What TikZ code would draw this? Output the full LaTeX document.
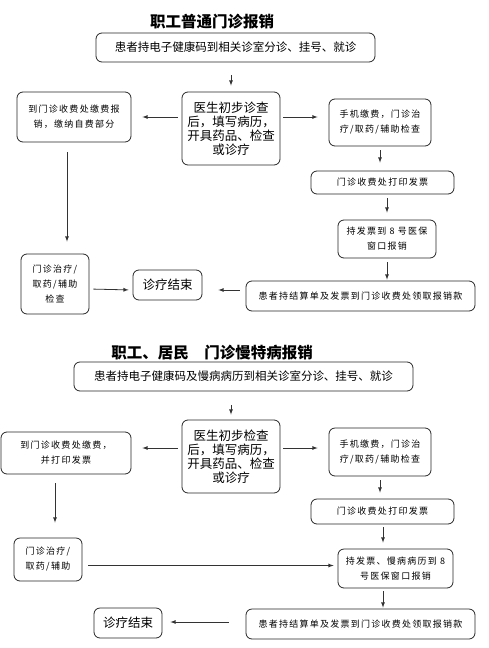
\documentclass[tikz,border=0pt]{standalone}
\usepackage{fontspec}
\setmainfont{Noto Sans CJK SC}
\usepackage{tikz}
\usetikzlibrary{
  arrows,
  positioning,
  calc
}
\tikzset{>=latex}
\tikzset{box/.style={draw=black!85, line width=0.8pt, rounded corners=6pt,
    align=center, inner sep=1pt},
  big/.style={font=\fontsize{12.5}{14}\selectfont},
  mid/.style={font=\fontsize{11.5}{14}\selectfont},
  fine/.style={font=\fontsize{9}{15}\selectfont\addfontfeature{LetterSpace=14}},
  head/.style={font=\fontsize{15.5}{18}\selectfont\bfseries},
  arr/.style={->, draw=black!80, line width=0.8pt}}

\begin{document}
\begin{tikzpicture}[x=1pt, y={(0pt,-1pt)}]
  \useasboundingbox (0,0) rectangle (489,648);
  % first flow
  \node[head] (t1) at (212,22) {职工普通门诊报销};
  \node[box, mid, minimum width=279pt, minimum height=29pt] (reg1) at (235.5,47.5) {患者持电子健康码到相关诊室分诊、挂号、就诊};
  \node[box, big, minimum width=98pt, minimum height=73pt] (doc1) at (231,128.5) {医生初步诊查\\后，填写病历，\\开具药品、检查\\或诊疗};
  \node[box, fine, minimum width=114pt, minimum height=50pt] (pay1) at (74,117) {到门诊收费处缴费报\\销，缴纳自费部分};
  \node[box, fine, minimum width=102pt, minimum height=47pt] (mob1) at (380,122.5) {手机缴费，门诊治\\疗/取药/辅助检查};
  \node[box, fine, minimum width=143pt, minimum height=23pt] (inv1) at (382.5,182.5) {门诊收费处打印发票};
  \node[box, fine, minimum width=98pt, minimum height=38pt] (win1) at (387,239) {持发票到 8 号医保\\窗口报销};
  \node[box, fine, minimum width=229pt, minimum height=30pt] (ref1) at (360.5,296) {患者持结算单及发票到门诊收费处领取报销款};
  \node[box, big, minimum width=69pt, minimum height=30pt] (end1) at (167.5,285) {诊疗结束};
  \node[box, fine, minimum width=68pt, minimum height=60pt] (trt1) at (55,284) {门诊治疗/\\取药/辅助\\检查};

  \draw[arr, shorten <=13pt, shorten >=6pt] (reg1.south -| doc1.north) -- (doc1.north);
  \draw[arr, shorten <=4pt, shorten >=11pt] (doc1.west |- pay1) -- (pay1.east);
  \draw[arr, shorten <=3pt, shorten >=11pt] (doc1.east |- pay1) -- (mob1.west |- pay1);
  \draw[arr, shorten <=4pt, shorten >=8pt] (mob1.south) -- (mob1.south |- inv1.north);
  \draw[arr, shorten <=4pt, shorten >=7pt] (inv1.south -| win1.north) -- (win1.north);
  \draw[arr, shorten <=4pt, shorten >=1pt] (win1.south) -- (win1.south |- ref1.north);
  \draw[arr, shorten <=6pt, shorten >=16pt] ([yshift=-5pt]ref1.west |- end1) -- ([yshift=-5pt]end1.east);
  \draw[arr, shorten <=10pt, shorten >=12pt] ([xshift=-7pt]pay1.south) -- ([xshift=-7pt]pay1.south |- trt1.north);
  \draw[arr, shorten <=4pt, shorten >=4pt] ([yshift=-5pt]trt1.east) -- ([yshift=-5pt]end1.west);

  % second flow
  \node[head] (t2) at (212,353) {职工、居民\hspace{1em}门诊慢特病报销};
  \node[box, mid, minimum width=339pt, minimum height=29pt] (reg2) at (243.5,376.5) {患者持电子健康码及慢病病历到相关诊室分诊、挂号、就诊};
  \node[box, big, minimum width=98pt, minimum height=73pt] (doc2) at (231,456.5) {医生初步检查\\后，填写病历，\\开具药品、检查\\或诊疗};
  \node[box, fine, minimum width=130pt, minimum height=42pt] (pay2) at (66,453) {到门诊收费处缴费，\\并打印发票};
  \node[box, fine, minimum width=102pt, minimum height=48pt] (mob2) at (380,452) {手机缴费，门诊治\\疗/取药/辅助检查};
  \node[box, fine, minimum width=143pt, minimum height=25pt] (inv2) at (382.5,511.5) {门诊收费处打印发票};
  \node[box, fine, minimum width=115pt, minimum height=39pt] (win2) at (395.5,568.5) {持发票、慢病病历到 8\\号医保窗口报销};
  \node[box, fine, minimum width=229pt, minimum height=30pt] (ref2) at (360.5,624) {患者持结算单及发票到门诊收费处领取报销款};
  \node[box, big, minimum width=68pt, minimum height=30pt] (end2) at (128,623) {诊疗结束};
  \node[box, fine, minimum width=68pt, minimum height=43pt] (trt2) at (48,559.5) {门诊治疗/\\取药/辅助};

  \draw[arr, shorten <=14pt, shorten >=5pt] (reg2.south -| doc2.north) -- (doc2.north);
  \draw[arr, shorten <=4pt, shorten >=11pt] ([yshift=5pt]doc2.west |- pay2) -- ([yshift=5pt]pay2.east);
  \draw[arr, shorten <=3pt, shorten >=11pt] ([yshift=5pt]doc2.east |- pay2) -- ([yshift=5pt]mob2.west |- pay2);
  \draw[arr, shorten <=4pt, shorten >=6pt] (mob2.south) -- (mob2.south |- inv2.north);
  \draw[arr, shorten <=3pt, shorten >=6pt] ([xshift=0.5pt]inv2.south) -- ([xshift=0.5pt]inv2.south |- win2.north);
  \draw[arr, shorten <=9pt, shorten >=15pt] ([xshift=7pt]trt2.north |- pay2.south) -- ([xshift=7pt]trt2.north);
  \draw[arr, shorten <=6pt, shorten >=4pt] ([yshift=-6pt]trt2.east) -- ([yshift=-6pt]trt2.east -| win2.west);
  \draw[arr, shorten <=3pt, shorten >=1pt] ([xshift=0.5pt]inv2.south |- win2.south) -- ([xshift=0.5pt]inv2.south |- ref2.north);
  \draw[arr, shorten <=17pt, shorten >=8pt] ([yshift=2pt]ref2.west) -- ([yshift=2pt]ref2.west -| end2.east);
\end{tikzpicture}
\end{document}
